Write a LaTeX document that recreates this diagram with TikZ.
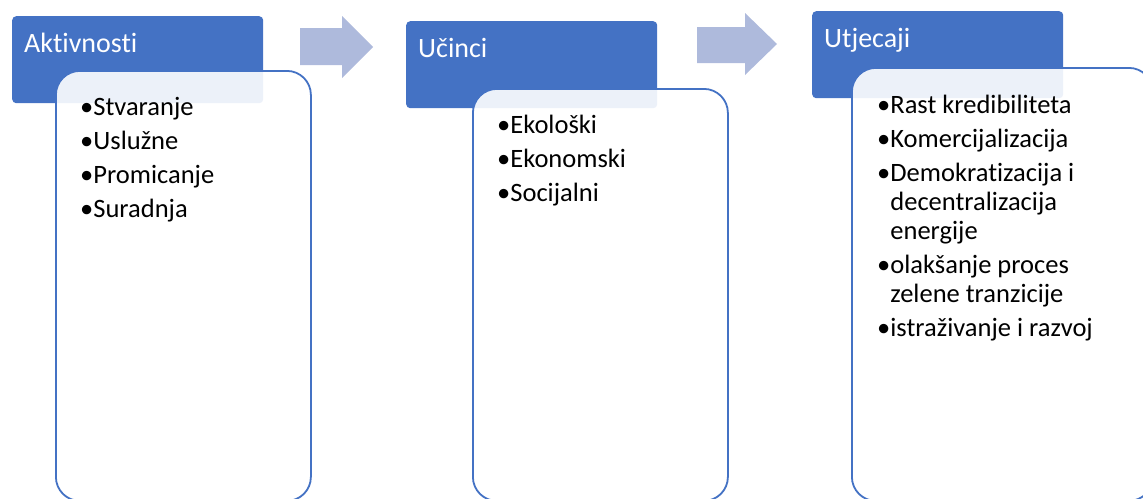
\documentclass[tikz,border=0pt]{standalone}
\usepackage{fontspec}
\setmainfont{Carlito}[Ligatures=NoCommon]
\usepackage{tikz}
\usetikzlibrary{positioning}

\definecolor{hdrblue}{RGB}{68,114,196}
\definecolor{arrblue}{RGB}{174,186,220}

\newlength\bulw
\newcommand\itm[1]{\par\settowidth\bulw{\textbullet}\hangindent=\bulw\hangafter=1\noindent\strut\makebox[\bulw][l]{\textbullet}#1}
\newcommand\itemlist[1]{\parbox[t]{250pt}{\fontsize{26.5}{29}\selectfont\setlength\parskip{5pt}\raggedright#1}}

\begin{document}
\begin{tikzpicture}[x=1pt,y=-1pt,
    hdr/.style={fill=hdrblue, rounded corners=4pt, minimum width=251pt, minimum height=87pt, anchor=north west, inner sep=0pt},
    hdrtxt/.style={text=white, font=\fontsize{28}{34}\selectfont, anchor=base west, inner sep=0pt, xshift=12pt, yshift=-36pt},
    panel/.style={draw=hdrblue, line width=1.8pt, fill=white, fill opacity=0.9, rounded corners=24pt, minimum width=255pt, anchor=north west, inner sep=0pt},
    items/.style={anchor=north west, inner sep=0pt, xshift=25pt, yshift=-25pt},
    blockarrow/.style={fill=arrblue}]
    \useasboundingbox (0,0) rectangle (1143,498);
    \clip (0,0) rectangle (1143,498);

    \node[hdr] (h1) at (12,16) {};
    \node[hdr] (h2) at (406,21) {};
    \node[hdr] (h3) at (812,11) {};

    \node[panel, minimum height=430pt] (b1) at (55,70) {};
    \node[panel, minimum height=412pt] (b2) at (472,88) {};
    \node[panel, minimum height=433pt, minimum width=301pt] (b3) at (851,67) {};

    \node[hdrtxt] (t1) at (h1.north west) {Aktivnosti};
    \node[hdrtxt] (t2) at (h2.north west) {Učinci};
    \node[hdrtxt] (t3) at (h3.north west) {Utjecaji};

    \node[items] (l1) at (b1.north west) {\itemlist{\itm{Stvaranje}\itm{Uslužne}\itm{Promicanje}\itm{Suradnja}}};
    \node[items] (l2) at (b2.north west) {\itemlist{\itm{Ekološki}\itm{Ekonomski}\itm{Socijalni}}};
    \node[items, xshift=1pt, yshift=-1pt] (l3) at (b3.north west) {\itemlist{\itm{Rast kredibiliteta}\itm{Komercijalizacija}\itm{Demokratizacija i\newline decentralizacija\newline energije}\itm{olakšanje proces\newline zelene tranzicije}\itm{istraživanje i razvoj}}};

    \fill[blockarrow] (300,28) -- (342,28) -- (342,16) -- (373,47) -- (342,78) -- (342,65) -- (300,65) -- cycle;
    \fill[blockarrow] (697,27) -- (745,27) -- (745,13) -- (777,44) -- (745,75) -- (745,63) -- (697,63) -- cycle;
\end{tikzpicture}
\end{document}
